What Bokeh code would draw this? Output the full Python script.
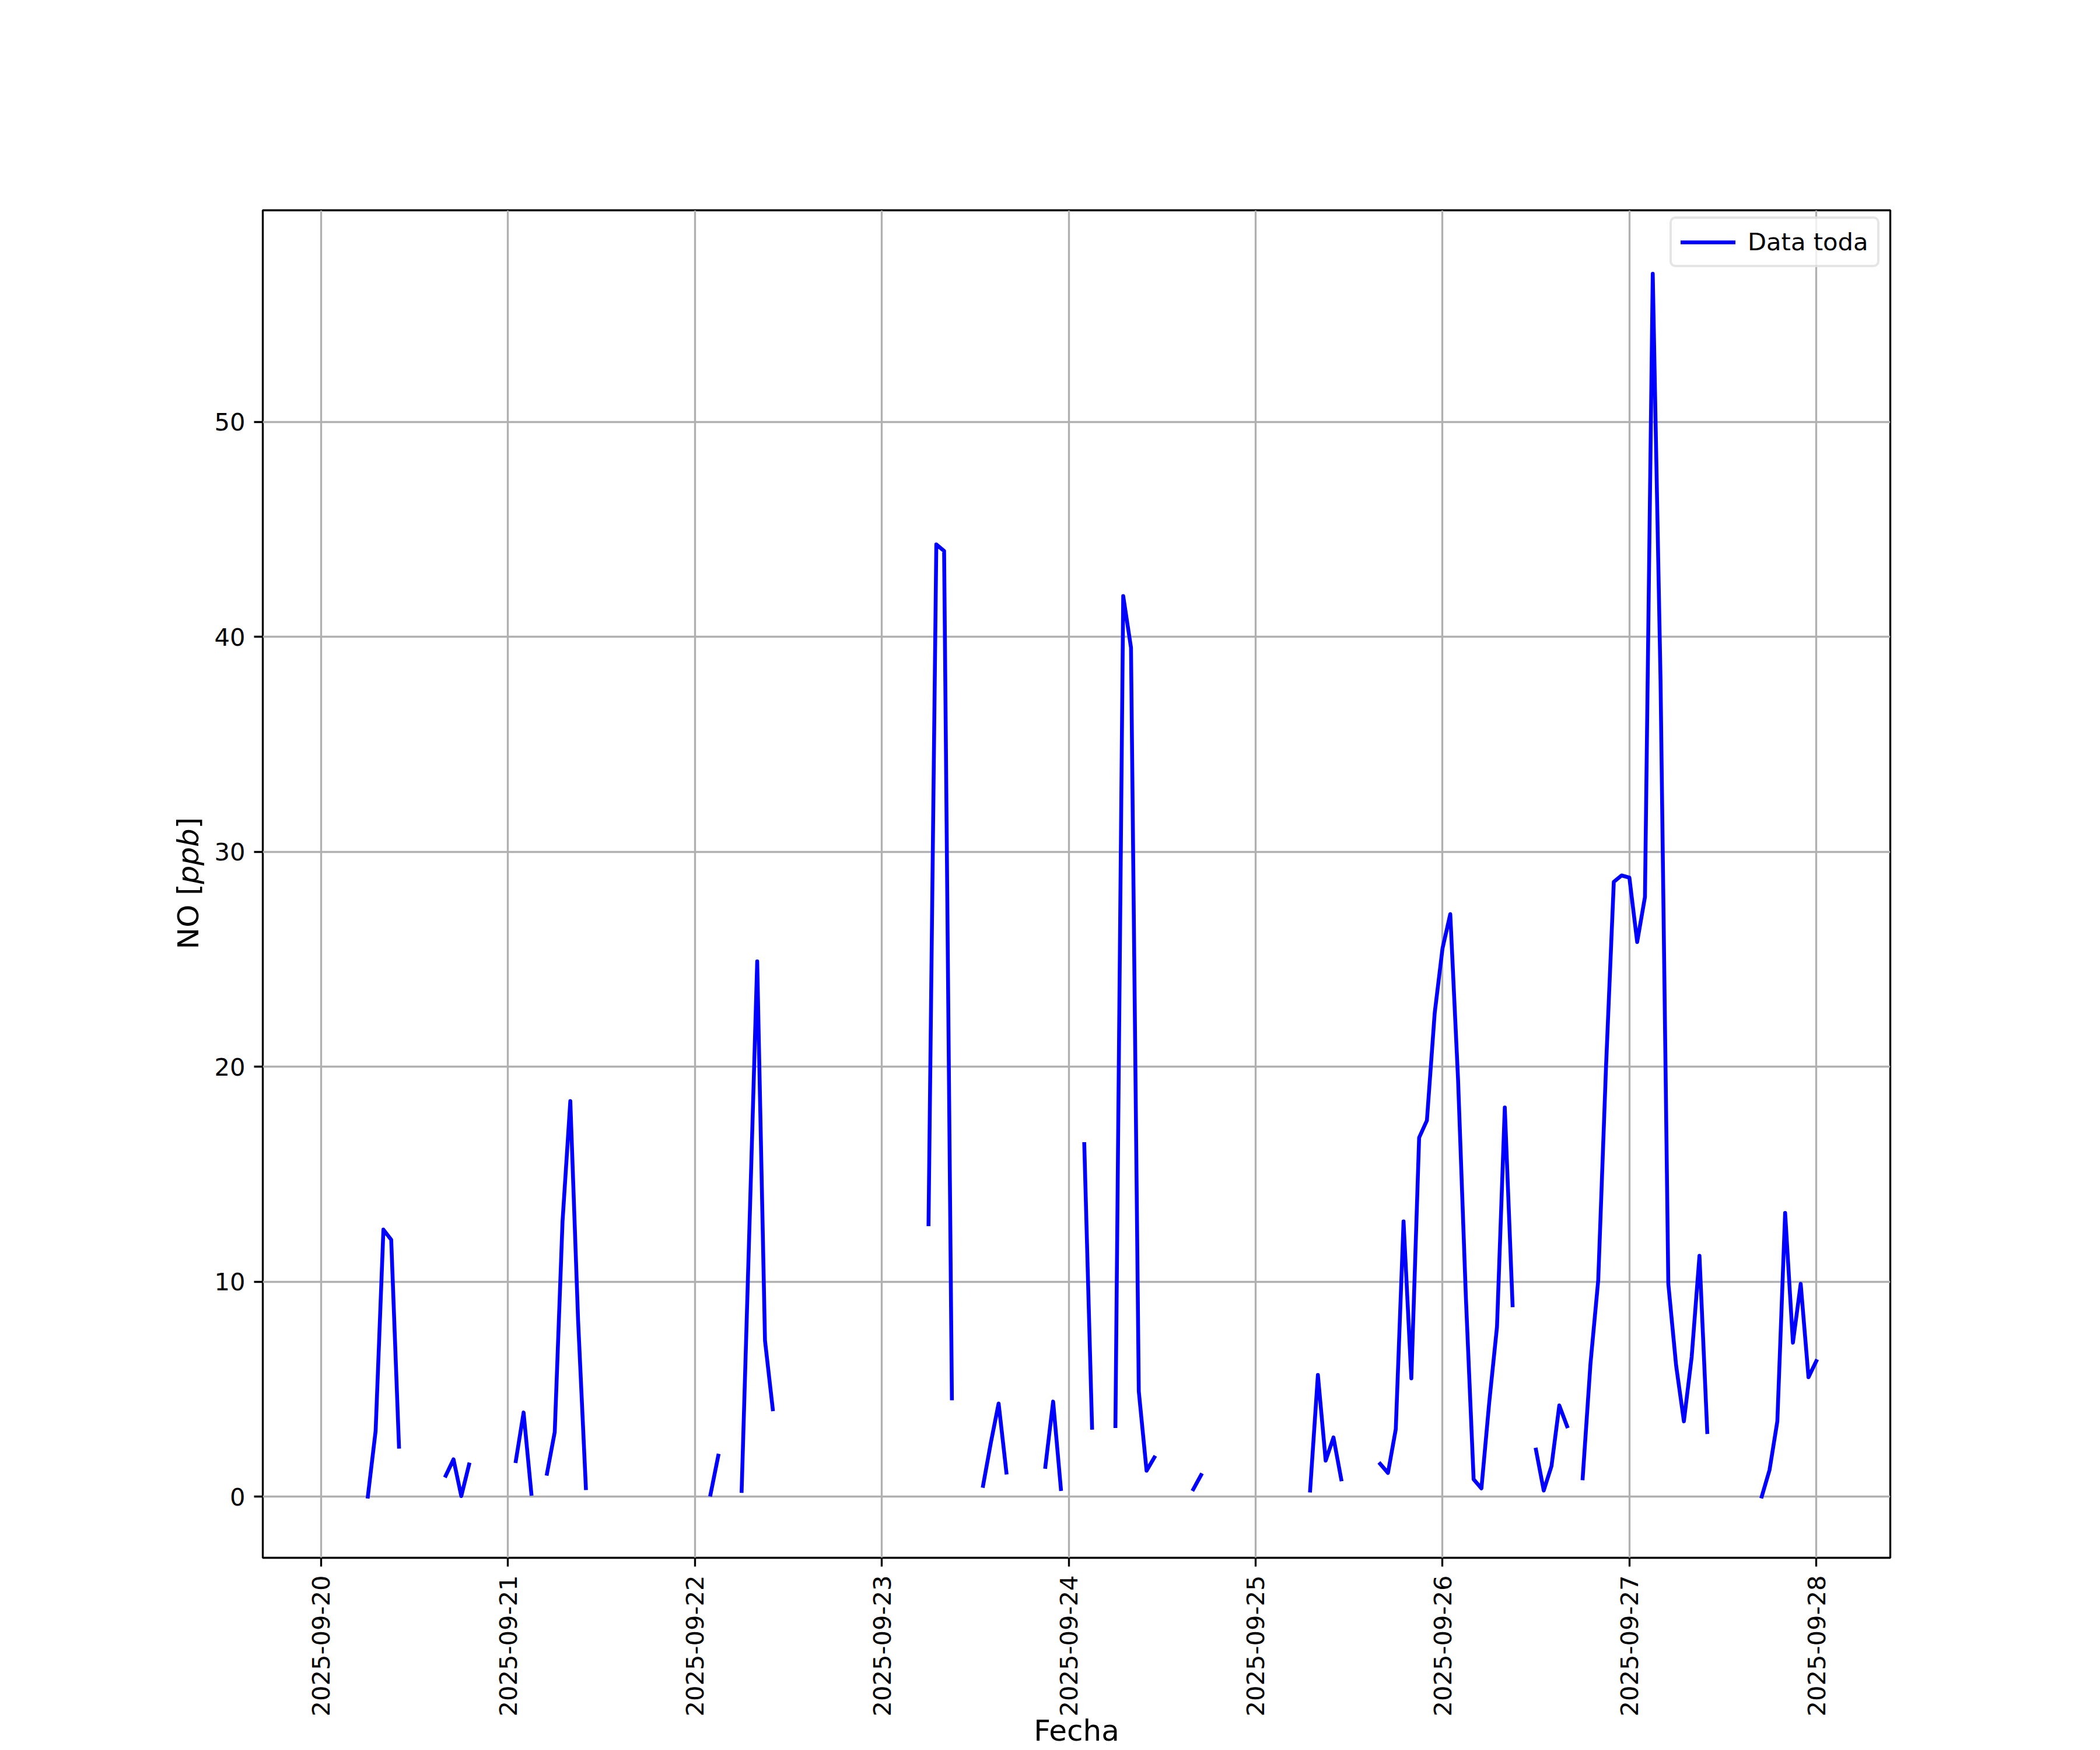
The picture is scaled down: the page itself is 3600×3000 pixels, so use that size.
import math
import numpy as np
import pandas as pd
from bokeh.plotting import figure
from bokeh.models import (ColumnDataSource, Range1d, FixedTicker,
                          DatetimeTickFormatter, Legend, LegendItem, Label)
from bokeh.embed import file_html
from bokeh.resources import INLINE

N = float("nan")

# ---- data: hourly NO [ppb], one list per day (hours 0..23) ----
start_time = "2025-09-20 00:00"
no_0920 = [N, N, N, N, N, N, 0.0, 3.06, 12.42, 11.95, 2.32, N, N, N, N, N,
           0.97, 1.73, 0.02, 1.49, N, N, N, N]
no_0921 = [N, 1.65, 3.91, 0.13, N, 1.06, 3.0, 12.8, 18.4, 8.2, 0.39,
           N, N, N, N, N, N, N, N, N, N, N, N, N]
no_0922 = [N, N, 0.09, 1.9, N, N, 0.26, 12.5, 24.9, 7.26, 4.06,
           N, N, N, N, N, N, N, N, N, N, N, N, N]
no_0923 = [N, N, N, N, N, N, 12.67, 44.3, 44.0, 4.57, N, N, N,
           0.5, 2.5, 4.33, 1.12, N, N, N, N, 1.38, 4.42, 0.35]
no_0924 = [N, N, 16.4, 3.2, N, N, 3.28, 41.9, 39.5, 4.9, 1.2, 1.82,
           N, N, N, N, 0.34, 1.0, N, N, N, N, N, N]
no_0925 = [N, N, N, N, N, N, N, 0.28, 5.66, 1.67, 2.75, 0.8, N, N, N, N,
           1.52, 1.1, 3.13, 12.8, 5.5, 16.7, 17.5, 22.5]
no_0926 = [25.5, 27.1, 19.4, 9.3, 0.8, 0.38, 4.37, 7.9, 18.1, 8.9, N, N,
           2.18, 0.28, 1.42, 4.24, 3.27, N, 0.85, 6.17, 10.07, 20.0, 28.6, 28.9]
no_0927 = [28.8, 25.8, 27.9, 56.9, 38.0, 9.9, 6.1, 3.5, 6.5, 11.2, 3.0,
           N, N, N, N, N, N, 0.0, 1.24, 3.5, 13.2, 7.16, 9.9, 5.55]
no_0928 = [6.3]

y_ticks = [0, 10, 20, 30, 40, 50]
x_tick_dates = ["2025-09-20", "2025-09-21", "2025-09-22", "2025-09-23",
                "2025-09-24", "2025-09-25", "2025-09-26", "2025-09-27",
                "2025-09-28"]
series_label = "Data toda"
x_label = "Fecha"
y_label_parts = ["NO [", "ppb", "]"]

values = (no_0920 + no_0921 + no_0922 + no_0923 + no_0924 + no_0925 +
          no_0926 + no_0927 + no_0928)
times = pd.date_range(start_time, periods=len(values), freq="h")
src = ColumnDataSource(data=dict(t=times, v=np.array(values, dtype=float)))

day0 = pd.Timestamp(start_time)
x_start = day0 - pd.Timedelta(days=0.3121)
x_end = day0 + pd.Timedelta(days=8.396)
y_start, y_end = -2.85, 59.85

FONT = "DejaVu Sans"
TICK_PX = "41.67px"
LABEL_PX = "50px"
LW = 3.33

W, H = 3600, 3000
FL, FT, FW, FH = 450, 360, 2790, 2310   # frame left/top/width/height

p = figure(width=W, height=H, x_axis_type="datetime",
           output_backend="svg", toolbar_location=None,
           x_range=Range1d(x_start, x_end), y_range=Range1d(y_start, y_end),
           min_border_left=FL, min_border_right=W - FL - FW,
           min_border_top=FT, min_border_bottom=H - FT - FH)
p.background_fill_color = "white"
p.border_fill_color = "white"
p.outline_line_color = "black"
p.outline_line_width = LW

tick_ms = [pd.Timestamp(d).value // 10**6 for d in x_tick_dates]
p.xaxis.ticker = FixedTicker(ticks=tick_ms)
fmt = "%Y-%m-%d"
p.xaxis.formatter = DatetimeTickFormatter(
    milliseconds=fmt, seconds=fmt, minsec=fmt, minutes=fmt, hourmin=fmt,
    hours=fmt, days=fmt, months=fmt, years=fmt)
p.yaxis.ticker = FixedTicker(ticks=y_ticks)
p.xaxis.major_label_orientation = math.pi / 2

for ax in (p.xaxis[0], p.yaxis[0]):
    ax.axis_line_color = None
    ax.major_tick_line_color = "black"
    ax.major_tick_line_width = LW
    ax.major_tick_out = 15
    ax.major_tick_in = 0
    ax.minor_tick_line_color = None
    ax.major_label_standoff = 15
    ax.major_label_text_font = FONT
    ax.major_label_text_font_size = TICK_PX
    ax.major_label_text_color = "black"
    ax.axis_label = None

for g in (p.xgrid[0], p.ygrid[0]):
    g.grid_line_color = "#b0b0b0"
    g.grid_line_width = LW

r = p.line(x="t", y="v", source=src, line_color="#0000ff", line_width=6.6,
           line_join="round", line_cap="square")

legend = Legend(items=[LegendItem(label=series_label, renderers=[r])],
                location=(2412, 2212), margin=0, padding=15,
                glyph_width=94, glyph_height=48, label_height=48,
                label_standoff=21, label_text_font=FONT,
                label_text_font_size=TICK_PX, label_text_color="black",
                border_line_color="#cccccc", border_line_width=4,
                background_fill_color="white", background_fill_alpha=0.8)
if "border_radius" in Legend.properties():
    legend.border_radius = 10
p.add_layout(legend)

# helpers: canvas pixel -> data coordinate (through the plot's ranges)
ms_start = x_start.value / 1e6
ms_span = (x_end.value - x_start.value) / 1e6


def px_to_x(px):
    return ms_start + (px - FL) * ms_span / FW


def py_to_y(py):
    return y_end - (py - FT) * (y_end - y_start) / FH


# y axis label, rotated, with the unit in italics (side panel => not clipped)
label_px_x = 322
label_px_y = [1627, 1515, 1420]
styles = ["normal", "italic", "normal"]
for txt, py, st in zip(y_label_parts, label_px_y, styles):
    p.add_layout(Label(x=px_to_x(label_px_x), y=py_to_y(py),
                       x_units="data", y_units="data",
                       text=txt, angle=math.pi / 2, text_font=FONT,
                       text_font_size=LABEL_PX, text_font_style=st,
                       text_color="black", text_align="left",
                       text_baseline="alphabetic"), "left")

p.add_layout(Label(x=px_to_x(FL + FW / 2), y=py_to_y(2966),
                   x_units="data", y_units="data",
                   text=x_label, text_font=FONT, text_font_size=LABEL_PX,
                   text_color="black", text_align="center",
                   text_baseline="alphabetic"), "right")

open("out.html", "w").write(file_html(p, INLINE))
